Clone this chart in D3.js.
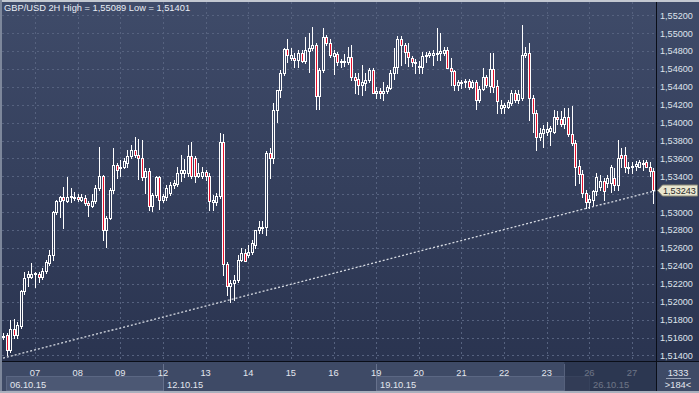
<!DOCTYPE html>
<html>
<head>
<meta charset="utf-8">
<script src="https://d3js.org/d3.v7.min.js"></script>
<style>
  body { margin: 0; background: #b4bac5; }
  svg { display: block; font-family: "Liberation Sans", Arial, sans-serif; }
</style>
</head>
<body>
<div class="display1"></div>
<script>
// GBP/USD 2H candles, 06.10.15 06:00 .. 27.10.15 12:00
var opens = [1.5161,1.5163,1.5146,1.5170,1.5163,1.5173,1.5212,1.5228,1.5228,1.5231,1.5231,1.5228,1.5234,1.5243,1.5252,1.5300,1.5313,1.5317,1.5313,1.5317,
  1.5317,1.5317,1.5314,1.5316,1.5310,1.5307,1.5312,1.5327,1.5341,1.5280,1.5293,1.5325,1.5353,1.5349,1.5351,1.5355,1.5363,1.5370,1.5364,1.5360,
  1.5339,1.5346,1.5307,1.5319,1.5339,1.5314,1.5317,1.5322,1.5330,1.5332,1.5344,1.5344,1.5344,1.5363,1.5360,1.5341,1.5341,1.5345,1.5341,1.5311,
  1.5311,1.5318,1.5378,1.5242,1.5217,1.5221,1.5224,1.5247,1.5254,1.5252,1.5256,1.5263,1.5280,1.5283,1.5283,1.5366,1.5360,1.5414,1.5436,1.5456,
  1.5482,1.5472,1.5472,1.5470,1.5478,1.5469,1.5480,1.5484,1.5487,1.5430,1.5459,1.5496,1.5489,1.5474,1.5477,1.5468,1.5468,1.5468,1.5473,1.5451,
  1.5449,1.5442,1.5444,1.5448,1.5459,1.5433,1.5435,1.5433,1.5435,1.5439,1.5456,1.5462,1.5494,1.5487,1.5479,1.5472,1.5467,1.5462,1.5462,1.5474,
  1.5476,1.5476,1.5477,1.5478,1.5478,1.5481,1.5461,1.5458,1.5442,1.5445,1.5445,1.5447,1.5440,1.5446,1.5425,1.5438,1.5451,1.5441,1.5460,1.5441,
  1.5416,1.5417,1.5417,1.5422,1.5433,1.5425,1.5428,1.5476,1.5478,1.5428,1.5411,1.5384,1.5389,1.5390,1.5391,1.5390,1.5406,1.5404,1.5398,1.5406,
  1.5387,1.5377,1.5352,1.5343,1.5321,1.5311,1.5314,1.5324,1.5328,1.5335,1.5333,1.5333,1.5338,1.5330,1.5364,1.5364,1.5350,1.5350,1.5352,1.5351,
  1.5354,1.5356,1.5351,1.5346];
var highs = [1.5165,1.5165,1.5180,1.5181,1.5177,1.5213,1.5233,1.5234,1.5243,1.5233,1.5233,1.5238,1.5247,1.5258,1.5301,1.5314,1.5318,1.5328,1.5339,1.5327,
  1.5323,1.5320,1.5320,1.5319,1.5313,1.5320,1.5330,1.5373,1.5342,1.5296,1.5327,1.5372,1.5355,1.5358,1.5360,1.5370,1.5375,1.5384,1.5382,1.5381,
  1.5349,1.5349,1.5321,1.5341,1.5341,1.5320,1.5330,1.5334,1.5336,1.5350,1.5364,1.5359,1.5375,1.5378,1.5363,1.5355,1.5350,1.5347,1.5344,1.5319,
  1.5321,1.5389,1.5387,1.5244,1.5224,1.5230,1.5252,1.5260,1.5259,1.5263,1.5269,1.5280,1.5290,1.5290,1.5368,1.5372,1.5422,1.5437,1.5459,1.5484,
  1.5494,1.5484,1.5478,1.5481,1.5481,1.5496,1.5500,1.5507,1.5489,1.5461,1.5506,1.5498,1.5493,1.5481,1.5479,1.5471,1.5477,1.5485,1.5487,1.5456,
  1.5456,1.5464,1.5456,1.5461,1.5461,1.5440,1.5439,1.5445,1.5442,1.5459,1.5484,1.5497,1.5497,1.5489,1.5489,1.5474,1.5471,1.5469,1.5479,1.5479,
  1.5480,1.5481,1.5506,1.5500,1.5485,1.5485,1.5472,1.5459,1.5448,1.5448,1.5449,1.5449,1.5448,1.5448,1.5441,1.5461,1.5453,1.5478,1.5478,1.5448,
  1.5425,1.5422,1.5425,1.5437,1.5437,1.5437,1.55089,1.5485,1.5489,1.5431,1.5414,1.5394,1.5397,1.5401,1.5396,1.5414,1.5413,1.5413,1.5416,1.5416,
  1.5419,1.5381,1.5358,1.5347,1.5325,1.5319,1.5325,1.5344,1.5342,1.5338,1.5342,1.5353,1.5349,1.5381,1.5372,1.5373,1.5356,1.5356,1.5357,1.5358,
  1.5358,1.5358,1.5356,1.5349];
var lows = [1.5158,1.51401,1.5144,1.5159,1.5160,1.5171,1.5209,1.5217,1.5227,1.5216,1.5222,1.5225,1.5232,1.5241,1.5247,1.5298,1.5295,1.5282,1.5311,1.5311,
  1.5314,1.5313,1.5312,1.5308,1.5296,1.5306,1.5310,1.5325,1.5269,1.5261,1.5292,1.5322,1.5338,1.5341,1.5349,1.5351,1.5360,1.5362,1.5337,1.5336,
  1.5321,1.5302,1.5301,1.5317,1.5304,1.5311,1.5314,1.5319,1.5327,1.5329,1.5335,1.5339,1.5341,1.5338,1.5334,1.5339,1.5338,1.5336,1.5302,1.5302,
  1.5308,1.5316,1.5230,1.5208,1.5200,1.5202,1.5222,1.5245,1.5245,1.5250,1.5253,1.5260,1.5277,1.5277,1.5275,1.5338,1.5355,1.5401,1.5429,1.5453,
  1.5468,1.5470,1.5462,1.5462,1.5468,1.5467,1.5457,1.5481,1.5415,1.5415,1.5457,1.5487,1.5473,1.5454,1.5465,1.5462,1.5463,1.5466,1.5448,1.5433,
  1.5432,1.5431,1.5437,1.5446,1.5433,1.5428,1.5428,1.5425,1.5433,1.5438,1.5449,1.5456,1.5465,1.5467,1.5463,1.5463,1.5456,1.5456,1.5456,1.5468,
  1.5473,1.5465,1.5470,1.5470,1.5476,1.5461,1.5442,1.5437,1.5437,1.5439,1.5440,1.5438,1.5439,1.5415,1.5423,1.5437,1.5440,1.5434,1.5434,1.5411,
  1.5411,1.5411,1.5416,1.5420,1.5423,1.5422,1.5425,1.5473,1.5403,1.5390,1.5370,1.5381,1.5373,1.5386,1.5375,1.5389,1.5398,1.5396,1.5394,1.5385,
  1.5375,1.5330,1.5333,1.5317,1.5305,1.5305,1.5308,1.5319,1.5325,1.5314,1.5328,1.5323,1.5325,1.5325,1.5350,1.5345,1.5344,1.5344,1.5347,1.5350,
  1.5347,1.5350,1.5340,1.5310];
var closes = [1.5162,1.5146,1.5170,1.5163,1.5174,1.5212,1.5226,1.5231,1.5231,1.5232,1.5228,1.5234,1.5244,1.5252,1.5300,1.5313,1.5317,1.5314,1.5317,1.5318,
  1.5316,1.5315,1.5317,1.5310,1.5308,1.5312,1.5327,1.5341,1.5280,1.5293,1.5325,1.5353,1.5347,1.5351,1.5357,1.5363,1.5370,1.5364,1.5360,1.5339,
  1.5346,1.5307,1.5319,1.5339,1.5314,1.5318,1.5327,1.5330,1.5333,1.5344,1.5347,1.5347,1.5363,1.5341,1.5340,1.5344,1.5345,1.5341,1.5312,1.5314,
  1.5318,1.5378,1.5242,1.5218,1.5221,1.5224,1.5247,1.5254,1.5245,1.5256,1.5266,1.5280,1.5284,1.5284,1.5366,1.5360,1.5414,1.5436,1.5456,1.5482,
  1.5476,1.5476,1.5470,1.5478,1.5469,1.5481,1.5484,1.5487,1.5430,1.5459,1.5496,1.5489,1.5476,1.5478,1.5468,1.5469,1.5469,1.5473,1.5451,1.5448,
  1.5442,1.5445,1.5448,1.5459,1.5433,1.5435,1.5433,1.5435,1.5440,1.5456,1.5462,1.5494,1.5487,1.5479,1.5473,1.5468,1.5468,1.5463,1.5474,1.5476,
  1.5478,1.5478,1.5478,1.5480,1.5481,1.5461,1.5458,1.5442,1.5445,1.5446,1.5447,1.5440,1.5446,1.5425,1.5438,1.5451,1.5442,1.5460,1.5440,1.5424,
  1.5420,1.5420,1.5423,1.5433,1.5425,1.5432,1.5476,1.5478,1.5428,1.5411,1.5384,1.5389,1.5393,1.5393,1.5394,1.5406,1.5404,1.5398,1.5406,1.5387,
  1.5377,1.5351,1.5343,1.5321,1.5311,1.5315,1.5324,1.5339,1.5335,1.5324,1.5338,1.5350,1.5330,1.5360,1.5360,1.5350,1.5351,1.5352,1.5354,1.5356,
  1.5355,1.5351,1.5346,1.53243];

var dayLabels = ["07","08","09","12","13","14","15","16","19","20","21","22","23","26","27"];
var weekLabels = ["06.10.15","12.10.15","19.10.15","26.10.15"];
var weekStartDay = [null,"12","19","26"];
var priceTicks = [1.514,1.516,1.518,1.520,1.522,1.524,1.526,1.528,1.530,1.532,
  1.534,1.536,1.538,1.540,1.542,1.544,1.546,1.548,1.550,1.552];
var trendLine = [[0, 1.5137], [183, 1.5324]];
var firstDayBar = 9, barsPerDay = 12;   // 2H bars, first midnight is bar 9
var scrollFromBar = 158;                 // start of the dimmed overview window

var W = 699, H = 393;
var plotL = 2, plotR = 656, plotT = 2, plotB = 361;

var svg = d3.select('.display1').append('svg').attr('width', W).attr('height', H);
var defs = svg.append('defs');
var grad = defs.append('linearGradient').attr('id', 'bg')
  .attr('x1', 0).attr('y1', 0).attr('x2', 0).attr('y2', 1);
grad.append('stop').attr('offset', '0%').attr('stop-color', '#3f4b69');
grad.append('stop').attr('offset', '100%').attr('stop-color', '#2a3450');
defs.append('clipPath').attr('id', 'clip').append('rect')
  .attr('x', plotL).attr('y', plotT).attr('width', plotR - plotL).attr('height', plotB - plotT);

var x = d3.scaleLinear().domain([firstDayBar, firstDayBar + 14 * barsPerDay]).range([35, 632]);
var y = d3.scaleLinear().domain([1.514, 1.552]).range([355.4, 15.3]);
var fmt = function(v) { return d3.format('.5f')(v).replace('.', ','); };
var px = function(v) { return Math.round(v) + 0.5; };
var lp = closes[closes.length - 1];

// backgrounds
svg.append('rect').attr('x', 2).attr('y', 2).attr('width', W - 2).attr('height', plotB - 2).attr('fill', 'url(#bg)');
svg.append('rect').attr('x', 2).attr('y', plotB).attr('width', W - 2).attr('height', 391 - plotB).attr('fill', '#3e4a66');

// grid
var grid = svg.append('g').attr('stroke', '#56627f').attr('stroke-dasharray', '2,3').attr('shape-rendering', 'crispEdges');
grid.selectAll('.h').data(priceTicks).join('line')
  .attr('x1', plotL).attr('x2', plotR).attr('y1', function(d) { return px(y(d)); }).attr('y2', function(d) { return px(y(d)); });
grid.selectAll('.v').data(dayLabels).join('line')
  .attr('x1', function(d, i) { return px(x(firstDayBar + i * barsPerDay)); })
  .attr('x2', function(d, i) { return px(x(firstDayBar + i * barsPerDay)); })
  .attr('y1', plotT).attr('y2', plotB);

// trend line
svg.append('line')
  .attr('x1', x(trendLine[0][0])).attr('y1', y(trendLine[0][1]))
  .attr('x2', x(trendLine[1][0]) + 2).attr('y2', y(trendLine[1][1]))
  .attr('stroke', '#d6dae2').attr('stroke-width', 1.3).attr('stroke-dasharray', '2,2')
  .attr('clip-path', 'url(#clip)');

// candles
var bars = d3.range(opens.length).map(function(i) {
  return { i: i, o: opens[i], h: highs[i], l: lows[i], c: closes[i] };
});
var cg = svg.append('g').attr('clip-path', 'url(#clip)').attr('shape-rendering', 'crispEdges');
bars.forEach(function(d) {
  var cx = px(x(d.i));
  var top = Math.round(y(Math.max(d.o, d.c))) + 0.5;
  var bot = Math.round(y(Math.min(d.o, d.c))) + 0.5;
  if (bot - top < 1) bot = top + 1;
  cg.append('line').attr('x1', cx).attr('x2', cx).attr('y1', Math.round(y(d.h))).attr('y2', top)
    .attr('stroke', '#ffffff');
  cg.append('line').attr('x1', cx).attr('x2', cx).attr('y1', bot).attr('y2', Math.round(y(d.l)) + 1)
    .attr('stroke', '#ffffff');
  cg.append('rect').attr('x', cx - 1).attr('y', top).attr('width', 2).attr('height', bot - top)
    .attr('fill', d.c < d.o ? '#e8112d' : 'none').attr('stroke', '#ffffff');
});

// title
svg.append('text').attr('x', 4).attr('y', 11).attr('fill', '#e9edf5').attr('font-size', 9.3)
  .text('GBP/USD 2H High = ' + fmt(d3.max(highs)) + ' Low = ' + fmt(d3.min(lows)));

// right axis (the label hidden under the last-price marker is left out)
svg.append('g').selectAll('text')
  .data(priceTicks.filter(function(d) { return Math.abs(y(d) - y(lp)) > 9; }))
  .join('text')
  .attr('x', 660).attr('y', function(d) { return y(d) + 3.3; })
  .attr('fill', '#dfe3ec').attr('font-size', 9.1).text(fmt);

// separators
svg.append('line').attr('x1', 656.5).attr('x2', 656.5).attr('y1', 2).attr('y2', 391).attr('stroke', '#0a0e18');
svg.append('line').attr('x1', 2).attr('x2', W).attr('y1', 361.5).attr('y2', 361.5).attr('stroke', '#0a0e18');

// bottom date row boxes
var dayX = function(lbl) { return x(firstDayBar + dayLabels.indexOf(lbl) * barsPerDay); };
var weekStarts = weekStartDay.map(function(d) { return d === null ? 6 : Math.round(dayX(d)); });
var weekEnds = weekStarts.slice(1).concat([plotR]);
var bottom = svg.append('g');
[0, 2].forEach(function(k) {
  bottom.append('rect').attr('x', weekStarts[k] + 0.5).attr('y', 376.5)
    .attr('width', weekEnds[k] - weekStarts[k]).attr('height', 14)
    .attr('fill', '#4c5874').attr('stroke', '#5b6783');
});
[1, 2].forEach(function(k) {
  bottom.append('line').attr('x1', weekStarts[k] + 0.5).attr('x2', weekStarts[k] + 0.5)
    .attr('y1', 364).attr('y2', 391).attr('stroke', '#66718c');
});
bottom.selectAll('.wk').data(weekLabels).join('text')
  .attr('x', function(d, k) { return weekStarts[k] + 4; }).attr('y', 387.5)
  .attr('fill', '#e3e7ef').attr('font-size', 9.3).text(function(d) { return d; });
bottom.selectAll('.day').data(dayLabels).join('text')
  .attr('x', function(d, i) { return x(firstDayBar + i * barsPerDay); }).attr('y', 376)
  .attr('text-anchor', 'middle').attr('fill', '#e3e7ef').attr('font-size', 9.3).text(function(d) { return d; });
// dimmed scroll window
bottom.append('rect').attr('x', x(scrollFromBar)).attr('y', 362).attr('width', plotR - x(scrollFromBar))
  .attr('height', 29).attr('fill', '#222b44').attr('fill-opacity', 0.62);
bottom.append('line').attr('x1', px(x(scrollFromBar))).attr('x2', px(x(scrollFromBar)))
  .attr('y1', 364).attr('y2', 391).attr('stroke', '#56617c');

// corner box
svg.append('text').attr('x', 678).attr('y', 375.5).attr('text-anchor', 'middle')
  .attr('fill', '#e3e7ef').attr('font-size', 9.3).text('1333');
svg.append('line').attr('x1', 666).attr('x2', 691).attr('y1', 378.5).attr('y2', 378.5).attr('stroke', '#9aa3b6');
svg.append('text').attr('x', 678).attr('y', 387.5).attr('text-anchor', 'middle')
  .attr('fill', '#e3e7ef').attr('font-size', 9.3).text('>' + opens.length + '<');

// last price marker
var ly = Math.round(y(lp)) + 0.5;
svg.append('path')
  .attr('d', 'M657.5,' + ly + ' L662.5,' + (ly - 5.5) + ' L697.5,' + (ly - 5.5) + ' L697.5,' + (ly + 5.5) + ' L662.5,' + (ly + 5.5) + ' Z')
  .attr('fill', '#e9e6cf').attr('stroke', '#8c8a78');
svg.append('text').attr('x', 663).attr('y', ly + 3.3).attr('fill', '#2a2a2a').attr('font-size', 9.1).text(fmt(lp));

// outer frame
svg.append('rect').attr('x', 0).attr('y', 0).attr('width', W).attr('height', 2).attr('fill', '#c3c8d1');
svg.append('rect').attr('x', 0).attr('y', 0).attr('width', 2).attr('height', H).attr('fill', '#7d879b');
svg.append('rect').attr('x', 0).attr('y', 391).attr('width', W).attr('height', 2).attr('fill', '#a9b0bd');
</script>
</body>
</html>
